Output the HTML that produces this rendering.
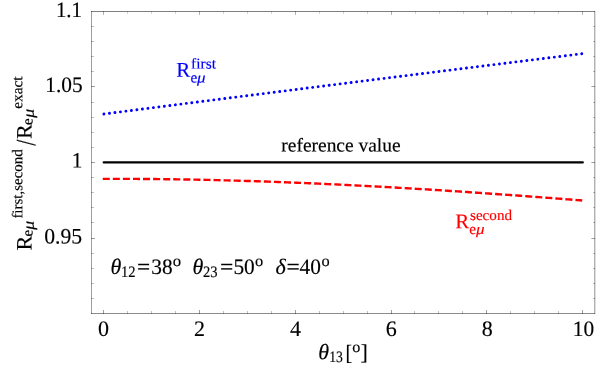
<!DOCTYPE html>
<html><head><meta charset="utf-8"><title>plot</title>
<style>
html,body{margin:0;padding:0;background:#fff;}
svg{display:block;font-family:"Liberation Serif",serif;will-change:transform;}
text{font-family:"Liberation Serif",serif;text-rendering:geometricPrecision;stroke-width:0.16px;}
</style></head><body>
<svg width="607" height="365" viewBox="0 0 607 365">
<path d="M91 11.5H595" stroke="#000" stroke-opacity="0.5" stroke-width="1" fill="none"/>
<path d="M91 313.5H595" stroke="#000" stroke-opacity="0.45" stroke-width="1" fill="none"/>
<path d="M91.5 11V314" stroke="#000" stroke-opacity="0.38" stroke-width="1" fill="none"/>
<path d="M594.5 11V314" stroke="#000" stroke-opacity="0.30" stroke-width="1" fill="none"/>
<path d="M595.5 11V314" stroke="#000" stroke-opacity="0.13" stroke-width="1" fill="none"/>
<path d="M103.5 314V310M199.5 314V310M295.5 314V310M391.5 314V310M486.5 314V310M582.5 314V310M91 86.5H95M595 86.5H591.4M91 162.5H95M595 162.5H591.4M91 238.5H95M595 238.5H591.4" stroke="#000" stroke-opacity="0.38" stroke-width="1" fill="none"/>
<path d="M127.5 314V311M151.5 314V311M175.5 314V311M223.5 314V311M247.5 314V311M271.5 314V311M319.5 314V311M343.5 314V311M367.5 314V311M414.5 314V311M438.5 314V311M462.5 314V311M510.5 314V311M534.5 314V311M558.5 314V311M91 26.5H94M595 26.5H593M91 41.5H94M595 41.5H593M91 56.5H94M595 56.5H593M91 71.5H94M595 71.5H593M91 102.5H94M595 102.5H593M91 117.5H94M595 117.5H593M91 132.5H94M595 132.5H593M91 147.5H94M595 147.5H593M91 177.5H94M595 177.5H593M91 192.5H94M595 192.5H593M91 207.5H94M595 207.5H593M91 222.5H94M595 222.5H593M91 253.5H94M595 253.5H593M91 268.5H94M595 268.5H593M91 283.5H94M595 283.5H593M91 298.5H94M595 298.5H593" stroke="#000" stroke-opacity="0.25" stroke-width="1" fill="none"/>
<path d="M103.5 11V15M199.5 11V15M295.5 11V15M391.5 11V15M487.5 11V15M582.5 11V15" stroke="#000" stroke-opacity="0.3" stroke-width="1" fill="none"/>
<path d="M127.5 11V14M151.5 11V14M175.5 11V14M223.5 11V14M247.5 11V14M271.5 11V14M319.5 11V14M343.5 11V14M367.5 11V14M415.5 11V14M439.5 11V14M463.5 11V14M511.5 11V14M534.5 11V14M558.5 11V14" stroke="#000" stroke-opacity="0.16" stroke-width="1" fill="none"/>
<path d="M103.93 113.97Q342.85 83.25 581.77 53.73" stroke="#0000ff" stroke-width="2.9" stroke-dasharray="0.01 5.5258" stroke-linecap="round" fill="none"/>
<path d="M103.75 162.45H582.75" stroke="#000" stroke-width="2.3" stroke-linecap="round" fill="none"/>
<path d="M102.75 178.88 L105.15 178.87 L107.54 178.87 L109.94 178.87 L112.34 178.86 L114.74 178.86 L117.13 178.86 L119.53 178.86 L121.93 178.87 L124.33 178.87 L126.72 178.88 L129.12 178.89 L131.52 178.90 L133.91 178.91 L136.31 178.92 L138.71 178.93 L141.11 178.95 L143.50 178.96 L145.90 178.98 L148.30 179.00 L150.69 179.02 L153.09 179.04 L155.49 179.07 L157.89 179.09 L160.28 179.12 L162.68 179.15 L165.08 179.18 L167.48 179.21 L169.87 179.24 L172.27 179.27 L174.67 179.30 L177.06 179.34 L179.46 179.38 L181.86 179.42 L184.26 179.46 L186.65 179.50 L189.05 179.54 L191.45 179.58 L193.85 179.63 L196.24 179.67 L198.64 179.72 L201.04 179.77 L203.43 179.82 L205.83 179.87 L208.23 179.92 L210.63 179.98 L213.02 180.03 L215.42 180.09 L217.82 180.15 L220.22 180.21 L222.61 180.27 L225.01 180.33 L227.41 180.39 L229.80 180.46 L232.20 180.52 L234.60 180.59 L237.00 180.66 L239.39 180.72 L241.79 180.79 L244.19 180.87 L246.59 180.94 L248.98 181.01 L251.38 181.09 L253.78 181.16 L256.17 181.24 L258.57 181.32 L260.97 181.40 L263.37 181.48 L265.76 181.56 L268.16 181.64 L270.56 181.73 L272.95 181.81 L275.35 181.90 L277.75 181.99 L280.15 182.08 L282.54 182.17 L284.94 182.26 L287.34 182.35 L289.74 182.44 L292.13 182.54 L294.53 182.63 L296.93 182.73 L299.32 182.83 L301.72 182.93 L304.12 183.02 L306.52 183.13 L308.91 183.23 L311.31 183.33 L313.71 183.43 L316.11 183.54 L318.50 183.65 L320.90 183.75 L323.30 183.86 L325.69 183.97 L328.09 184.08 L330.49 184.19 L332.89 184.30 L335.28 184.42 L337.68 184.53 L340.08 184.65 L342.48 184.76 L344.87 184.88 L347.27 185.00 L349.67 185.12 L352.06 185.24 L354.46 185.36 L356.86 185.48 L359.26 185.60 L361.65 185.73 L364.05 185.85 L366.45 185.98 L368.84 186.10 L371.24 186.23 L373.64 186.36 L376.04 186.49 L378.43 186.62 L380.83 186.75 L383.23 186.88 L385.63 187.02 L388.02 187.15 L390.42 187.28 L392.82 187.42 L395.21 187.56 L397.61 187.69 L400.01 187.83 L402.41 187.97 L404.80 188.11 L407.20 188.25 L409.60 188.40 L412.00 188.54 L414.39 188.68 L416.79 188.83 L419.19 188.97 L421.58 189.12 L423.98 189.26 L426.38 189.41 L428.78 189.56 L431.17 189.71 L433.57 189.86 L435.97 190.01 L438.37 190.16 L440.76 190.31 L443.16 190.47 L445.56 190.62 L447.95 190.77 L450.35 190.93 L452.75 191.09 L455.15 191.24 L457.54 191.40 L459.94 191.56 L462.34 191.72 L464.73 191.88 L467.13 192.04 L469.53 192.20 L471.93 192.36 L474.32 192.52 L476.72 192.69 L479.12 192.85 L481.52 193.02 L483.91 193.18 L486.31 193.35 L488.71 193.51 L491.10 193.68 L493.50 193.85 L495.90 194.02 L498.30 194.19 L500.69 194.36 L503.09 194.53 L505.49 194.70 L507.89 194.87 L510.28 195.05 L512.68 195.22 L515.08 195.39 L517.47 195.57 L519.87 195.74 L522.27 195.92 L524.67 196.09 L527.06 196.27 L529.46 196.45 L531.86 196.63 L534.26 196.81 L536.65 196.98 L539.05 197.16 L541.45 197.35 L543.84 197.53 L546.24 197.71 L548.64 197.89 L551.04 198.07 L553.43 198.26 L555.83 198.44 L558.23 198.62 L560.62 198.81 L563.02 198.99 L565.42 199.18 L567.82 199.36 L570.21 199.55 L572.61 199.74 L575.01 199.93 L577.41 200.11 L579.80 200.30 L582.20 200.49" stroke="#ff0000" stroke-width="2.4" stroke-dasharray="7.05 3.02" fill="none"/>
<text transform="translate(82.00,16.90) rotate(0.03) scale(0.95,1)" font-size="22.0" stroke="#000" text-anchor="end">1.1</text>
<text transform="translate(82.70,92.10) rotate(0.03) scale(0.97,1)" font-size="22.0" stroke="#000" text-anchor="end">1.05</text>
<text transform="translate(82.40,167.50) rotate(0.03) scale(0.97,1)" font-size="22.0" stroke="#000" text-anchor="end">1</text>
<text transform="translate(82.20,243.60) rotate(0.03) scale(0.985,1)" font-size="22.0" stroke="#000" text-anchor="end">0.95</text>
<text transform="translate(103.60,335.90) rotate(0.03) scale(1.0,1)" font-size="22.0" stroke="#000" text-anchor="middle">0</text>
<text transform="translate(199.50,335.90) rotate(0.03) scale(1.0,1)" font-size="22.0" stroke="#000" text-anchor="middle">2</text>
<text transform="translate(295.40,335.90) rotate(0.03) scale(1.0,1)" font-size="22.0" stroke="#000" text-anchor="middle">4</text>
<text transform="translate(391.30,335.90) rotate(0.03) scale(1.0,1)" font-size="22.0" stroke="#000" text-anchor="middle">6</text>
<text transform="translate(487.20,335.90) rotate(0.03) scale(1.0,1)" font-size="22.0" stroke="#000" text-anchor="middle">8</text>
<text transform="translate(583.40,335.90) rotate(0.03) scale(0.97,1)" font-size="22.0" stroke="#000" text-anchor="middle">10</text>
<text transform="translate(281.30,151.50) rotate(0.03) scale(1.009,1)" font-size="19.3" stroke="#000">reference value</text>
<text transform="translate(176.30,76.80) rotate(0.03) scale(1.0,1)" font-size="21" fill="#0000ff" stroke="#0000ff">R</text><text transform="translate(191.10,68.50) rotate(0.03) scale(1.035,1)" font-size="14.9" fill="#0000ff" stroke="#0000ff">first</text><text transform="translate(190.40,82.60) rotate(0.03) scale(1.0,1)" font-size="15.2" fill="#0000ff" stroke="#0000ff">e</text><text transform="translate(197.00,82.60) rotate(0.03) scale(1.12,1)" font-size="15.2" fill="#0000ff" stroke="#0000ff" font-style="italic">μ</text>
<text transform="translate(455.20,228.20) rotate(0.03) scale(1.0,1)" font-size="21" fill="#ff0000" stroke="#ff0000">R</text><text transform="translate(470.00,219.90) rotate(0.03) scale(1.017,1)" font-size="14.9" fill="#ff0000" stroke="#ff0000">second</text><text transform="translate(469.30,234.00) rotate(0.03) scale(1.0,1)" font-size="15.2" fill="#ff0000" stroke="#ff0000">e</text><text transform="translate(475.90,234.00) rotate(0.03) scale(1.12,1)" font-size="15.2" fill="#ff0000" stroke="#ff0000" font-style="italic">μ</text>
<text transform="translate(110.60,274.00) rotate(0.03) scale(1.0,1)" font-size="22.0" stroke="#000" font-style="italic">θ</text>
<text transform="translate(120.90,277.30) rotate(0.03) scale(0.91,1)" font-size="16.0" stroke="#000">12</text>
<text transform="translate(137.10,274.00) rotate(0.03) scale(1.06,1)" font-size="22" stroke="#000">=</text>
<text transform="translate(151.30,274.00) rotate(0.03) scale(0.97,1)" font-size="22" stroke="#000">38</text>
<text transform="translate(172.70,265.90) rotate(0.03) scale(1.07,1)" font-size="15.6" stroke="#000">o</text>
<text transform="translate(192.60,274.00) rotate(0.03) scale(1.0,1)" font-size="22.0" stroke="#000" font-style="italic">θ</text>
<text transform="translate(203.00,277.30) rotate(0.03) scale(0.91,1)" font-size="16.0" stroke="#000">23</text>
<text transform="translate(220.00,274.00) rotate(0.03) scale(1.07,1)" font-size="22" stroke="#000">=</text>
<text transform="translate(233.45,274.00) rotate(0.03) scale(0.97,1)" font-size="22" stroke="#000">50</text>
<text transform="translate(255.10,265.90) rotate(0.03) scale(1.05,1)" font-size="15.6" stroke="#000">o</text>
<text transform="translate(275.40,274.00) rotate(0.03) scale(1.0,1)" font-size="22" stroke="#000" font-style="italic">δ</text>
<text transform="translate(286.40,274.00) rotate(0.03) scale(1.07,1)" font-size="22" stroke="#000">=</text>
<text transform="translate(299.60,274.00) rotate(0.03) scale(0.97,1)" font-size="22" stroke="#000">40</text>
<text transform="translate(321.50,265.90) rotate(0.03) scale(1.05,1)" font-size="15.6" stroke="#000">o</text>
<text transform="translate(318.20,359.30) rotate(0.03) scale(1.0,1)" font-size="22.0" stroke="#000" font-style="italic">θ</text>
<text transform="translate(329.20,362.35) rotate(0.03) scale(0.85,1)" font-size="16.0" stroke="#000">13</text>
<text transform="translate(345.50,359.50) rotate(0.03) scale(0.9,1)" font-size="22.0" stroke="#000">[</text>
<text transform="translate(352.20,352.10) rotate(0.03) scale(1.03,1)" font-size="15.6" stroke="#000">o</text>
<text transform="translate(360.45,359.50) rotate(0.03) scale(1.0,1)" font-size="22.0" stroke="#000">]</text>
<g transform="translate(32.3,250.4) rotate(-90)"><text transform="translate(0.00,-0.70) rotate(0.03) scale(1.0,1)" font-size="22" stroke="#000">R</text><text transform="translate(13.90,0.20) rotate(0.03) scale(1.0,1)" font-size="15.2" stroke="#000">e</text><text transform="translate(20.70,1.50) rotate(0.03) scale(1.12,1)" font-size="15.8" stroke="#000" font-style="italic">μ</text><text transform="translate(31.80,-10.00) rotate(0.03) scale(1.003,1)" font-size="14.9" stroke="#000">first,second</text><g transform="translate(104.6,2.9) scale(1,1.27)"><text transform="translate(0.00,0.00) rotate(0.03) scale(1.0,1)" font-size="22" stroke="#000">/</text></g><text transform="translate(111.40,-0.70) rotate(0.03) scale(1.0,1)" font-size="22" stroke="#000">R</text><text transform="translate(125.50,0.20) rotate(0.03) scale(1.0,1)" font-size="15.2" stroke="#000">e</text><text transform="translate(132.60,1.50) rotate(0.03) scale(1.12,1)" font-size="15.8" stroke="#000" font-style="italic">μ</text><text transform="translate(141.60,-10.00) rotate(0.03) scale(1.03,1)" font-size="14.9" stroke="#000">exact</text></g>
</svg>
</body></html>
